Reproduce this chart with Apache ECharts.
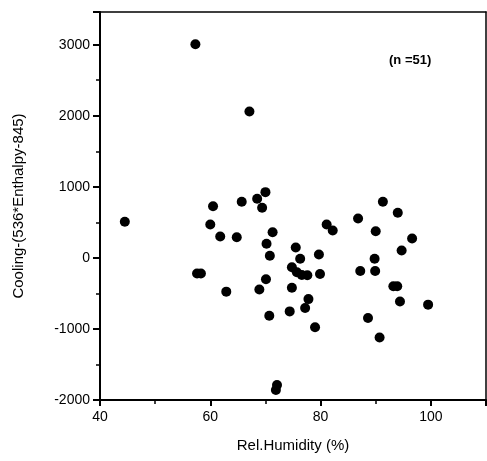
<!DOCTYPE html>
<html>
<head>
<meta charset="utf-8">
<script src="https://cdn.jsdelivr.net/npm/echarts@6/dist/echarts.min.js"></script>
<style>
  html, body { margin: 0; padding: 0; background: #fff; }
  #chart { width: 487px; height: 461px; }
</style>
</head>
<body>
<div id="chart"></div>
<script>
// values (n = 51)
const humidity = [
  57.3, 67.1, 44.5, 60.5, 60.0, 61.8, 64.8, 57.6, 58.3, 62.9,
  65.7, 68.5, 70.0, 69.4, 71.3, 70.2, 70.8, 75.5, 76.3, 74.8,
  75.7, 77.6, 76.6, 79.7, 79.9, 81.1, 82.2, 70.1, 68.9, 74.8,
  77.8, 77.2, 70.7, 74.4, 79.0, 72.1, 71.9, 91.3, 94.0, 86.8,
  90.0, 96.6, 94.7, 89.8, 87.2, 89.9, 93.2, 93.9, 94.4, 99.5,
  88.6, 90.7
];
const cooling = [
  3005, 2060, 508, 727, 470, 300, 290, -221, -221, -475,
  790, 832, 925, 705, 361, 200, 30, 145, -12, -132,
  -203, -245, -240, 47, -226, 470, 385, -300, -445, -420,
  -580, -705, -814, -753, -975, -1790, -1860, 790, 635, 554,
  375, 272, 105, -12, -185, -185, -400, -400, -615, -658,
  -846, -1120
];
const xTicks = { min: 40, max: 110, step: 20 };
const yTicks = { min: -2000, max: 3460, step: 1000 };
const sampleNote = '(n =51)';

const points = humidity.map((h, i) => [h, cooling[i]]);

const font = '"Liberation Sans", Arial, sans-serif';
const black = '#000';

// top and right frame lines: same scales, no ticks or labels
function frameAxis(position, range) {
  return {
    type: 'value',
    position: position,
    min: range.min,
    max: range.max,
    interval: range.step,
    axisLine: { show: true, onZero: false, lineStyle: { color: black, width: 1.5 } },
    axisTick: { show: false },
    axisLabel: { show: false },
    splitLine: { show: false },
  };
}

const chart = echarts.init(document.getElementById('chart'));
chart.setOption({
  animation: false,
  backgroundColor: '#fff',
  grid: { left: 100, right: 1, top: 12, bottom: 61 },
  xAxis: [
    {
      type: 'value',
      position: 'bottom',
      min: xTicks.min,
      max: xTicks.max,
      interval: xTicks.step,
      name: 'Rel.Humidity (%)',
      nameLocation: 'middle',
      nameGap: 38,
      nameTextStyle: { color: black, fontSize: 15, fontFamily: font },
      axisLine: { show: true, onZero: false, lineStyle: { color: black, width: 2 } },
      axisTick: { show: true, inside: false, length: 6, lineStyle: { color: black, width: 2 } },
      minorTick: { show: true, splitNumber: 2, length: 4, lineStyle: { color: black, width: 1.5 } },
      axisLabel: { color: black, fontSize: 14, fontFamily: font, margin: 10, showMaxLabel: false },
      splitLine: { show: false },
    },
    frameAxis('top', xTicks),
  ],
  yAxis: [
    {
      type: 'value',
      position: 'left',
      min: yTicks.min,
      max: yTicks.max,
      interval: yTicks.step,
      name: 'Cooling-(536*Enthalpy-845)',
      nameLocation: 'middle',
      nameGap: 74,
      nameTextStyle: { color: black, fontSize: 15, fontFamily: font },
      axisLine: { show: true, onZero: false, lineStyle: { color: black, width: 2 } },
      axisTick: { show: true, inside: false, length: 7, lineStyle: { color: black, width: 2 } },
      minorTick: { show: true, splitNumber: 2, length: 4, lineStyle: { color: black, width: 1.5 } },
      axisLabel: {
        color: black,
        fontSize: 14,
        fontFamily: font,
        margin: 10,
        showMaxLabel: false,
        formatter: (v) => String(v),
      },
      splitLine: { show: false },
    },
    frameAxis('right', yTicks),
  ],
  graphic: [
    {
      type: 'text',
      left: 389,
      top: 54,
      style: { text: sampleNote, fill: black, fontSize: 13, fontWeight: 'bold', fontFamily: font },
    },
  ],
  series: [
    {
      type: 'scatter',
      xAxisIndex: 0,
      yAxisIndex: 0,
      data: points,
      symbol: 'circle',
      symbolSize: 10,
      itemStyle: { color: black, opacity: 1 },
    },
  ],
});
</script>
</body>
</html>
